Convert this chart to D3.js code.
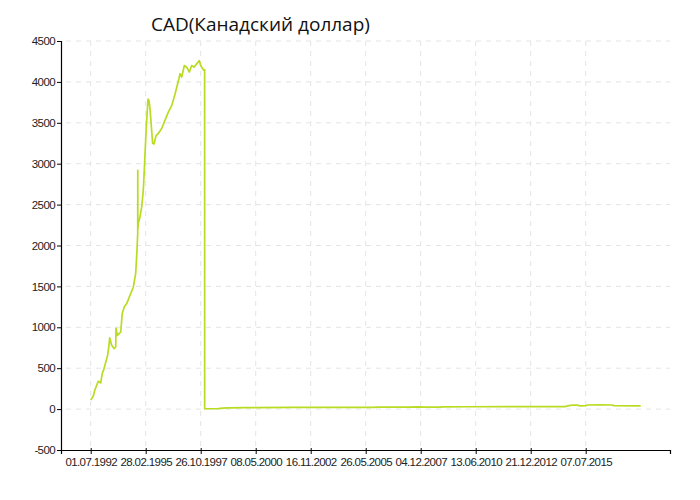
<!DOCTYPE html>
<html>
<head>
<meta charset="utf-8">
<script src="https://cdn.jsdelivr.net/npm/d3@7"></script>
<style>
  body { margin: 0; background: #fff; }
</style>
</head>
<body>
<script>

// Chart title
var title = "CAD(Канадский доллар)";

// Dates shown on the x axis
var tickDates = ["1992-07-01", "1995-02-28", "1997-10-26", "2000-05-08", "2002-11-16",
                 "2005-05-26", "2007-12-04", "2010-06-13", "2012-12-21", "2015-07-07"];

// y axis ticks
var yTicks = [-500, 0, 500, 1000, 1500, 2000, 2500, 3000, 3500, 4000, 4500];

// rate before the 1998 redenomination
var oldDates = ["1992-07-01", "1992-07-20", "1992-08-16", "1992-09-10", "1992-10-03", "1992-11-12",
  "1992-12-25", "1993-01-22", "1993-02-15", "1993-03-11", "1993-04-27", "1993-05-20", "1993-06-02",
  "1993-07-07", "1993-08-17", "1993-09-16", "1993-09-21", "1993-10-14", "1993-12-13", "1994-01-10",
  "1994-02-15", "1994-03-29", "1994-05-26", "1994-07-24", "1994-09-04", "1994-09-27", "1994-10-10",
  "1994-10-11", "1994-10-12", "1994-10-20", "1994-11-19", "1994-12-19", "1995-01-16", "1995-02-03",
  "1995-02-15", "1995-03-10", "1995-03-28", "1995-04-10", "1995-04-27", "1995-05-15", "1995-06-14",
  "1995-06-30", "1995-07-24", "1995-08-29", "1995-10-08", "1995-12-07", "1996-02-03", "1996-04-02",
  "1996-06-01", "1996-07-29", "1996-09-26", "1996-10-26", "1996-11-25", "1997-01-10", "1997-02-21",
  "1997-04-08", "1997-05-20", "1997-06-29", "1997-08-16", "1997-10-01", "1997-10-26", "1997-11-29",
  "1997-12-20", "1997-12-31"];
var oldRates = [110, 130, 160, 230, 270, 340,
  320, 440, 480, 540, 660, 780, 870,
  780, 740, 760, 990, 900, 940, 1170,
  1250, 1290, 1390, 1490, 1660, 1940, 2150,
  2920, 2200, 2270, 2350, 2470, 2670, 2920,
  3100, 3450, 3650, 3790, 3770, 3670, 3400,
  3250, 3240, 3340, 3370, 3430, 3530, 3630,
  3710, 3850, 4010, 4100, 4060, 4200, 4180,
  4120, 4200, 4180, 4220, 4260, 4200, 4160,
  4140, 4150];

// rate after the redenomination
var newDates = ["1998-01-01", "1998-08-15", "1998-09-15", "1998-11-05", "1999-02-01", "1999-12-01",
  "2000-06-01", "2002-01-01", "2004-01-01", "2005-10-01", "2005-12-01", "2006-04-01", "2007-06-01",
  "2007-10-01", "2008-03-01", "2008-11-01", "2008-12-15", "2010-01-01", "2012-01-01", "2014-01-01",
  "2014-07-23", "2014-10-15", "2014-12-21", "2015-02-10", "2015-04-01", "2015-07-11", "2015-08-09",
  "2016-03-06", "2016-09-25", "2016-10-30", "2018-01-23"];
var newRates = [4.15, 4.3, 10, 13, 16, 17,
  19, 20, 21, 22, 25, 23, 25,
  26, 24, 24, 28, 29, 30, 31,
  31, 45, 50, 48, 40, 42, 50,
  52, 50, 42, 40];

var parse = d3.timeParse("%Y-%m-%d");
var fmt = d3.timeFormat("%d.%m.%Y");

var data = oldDates.map(function(d, i) { return { date: parse(d), value: oldRates[i] }; })
  .concat(newDates.map(function(d, i) { return { date: parse(d), value: newRates[i] }; }));

var svgWidth = 700, svgHeight = 500;
var margin = { top: 41, right: 30, bottom: 50, left: 61 };
var chartWidth = svgWidth - margin.left - margin.right;
var chartHeight = svgHeight - margin.top - margin.bottom;

var svg = d3.select("body").append("svg")
  .attr("width", svgWidth)
  .attr("height", svgHeight);

var g = svg.append("g")
  .attr("transform", `translate(${margin.left}, ${margin.top})`);

// ticks sit at even steps along the axis (the source axis is point-indexed)
var ticks = tickDates.map(parse);
var step = 55, firstTick = 29.7;
var lastDate = data[data.length - 1].date;
var xDomain = [parse("1991-01-23")].concat(ticks, [lastDate, parse("2019-06-01")]);
var xRange = [0].concat(ticks.map(function(d, i) { return firstTick + i * step; }),
  [firstTick + ticks.length * step, chartWidth]);

var x = d3.scaleTime().domain(xDomain).range(xRange);
var y = d3.scaleLinear().domain([-500, 4500]).range([chartHeight, 0]);

// grid
g.append("g").selectAll("line")
  .data(yTicks.slice(1))
  .enter().append("line")
  .attr("x1", 5).attr("x2", chartWidth)
  .attr("y1", d => y(d)).attr("y2", d => y(d))
  .attr("stroke", "#e4e4e4")
  .attr("stroke-dasharray", "5,5");

g.append("g").selectAll("line")
  .data(ticks)
  .enter().append("line")
  .attr("x1", d => x(d)).attr("x2", d => x(d))
  .attr("y1", 0).attr("y2", chartHeight)
  .attr("stroke", "#e4e4e4")
  .attr("stroke-dasharray", "5,5");

// line
var line = d3.line()
  .x(d => x(d.date))
  .y(d => y(d.value));

g.append("path")
  .datum(data)
  .attr("fill", "none")
  .attr("stroke", "#b8dc22")
  .attr("stroke-width", 1.7)
  .attr("stroke-linejoin", "round")
  .attr("d", line);

// axes
var xAxis = g.append("g")
  .attr("transform", `translate(0, ${chartHeight})`)
  .call(d3.axisBottom(x).tickValues(ticks).tickFormat(fmt).tickSize(4).tickPadding(4));

xAxis.selectAll(".tick line").attr("y1", -2);

var yAxis = g.append("g")
  .call(d3.axisLeft(y).tickValues(yTicks).tickFormat(d => String(d)).tickSize(4).tickPadding(2));

[xAxis, yAxis].forEach(function(a) {
  a.select(".domain").attr("stroke", "#000").attr("stroke-width", 1.2);
  a.selectAll(".tick line").attr("stroke", "#000");
  a.selectAll("text")
    .attr("fill", "#222")
    .style("font-family", "'Liberation Sans', Arial, sans-serif")
    .style("font-size", "11.5px")
    .style("letter-spacing", "-0.6px");
});

// title
svg.append("text")
  .attr("x", 151)
  .attr("y", 31)
  .attr("fill", "#111")
  .style("font-family", "'Open Sans', sans-serif")
  .style("font-size", "19px")
  .text(title);

</script>
</body>
</html>
